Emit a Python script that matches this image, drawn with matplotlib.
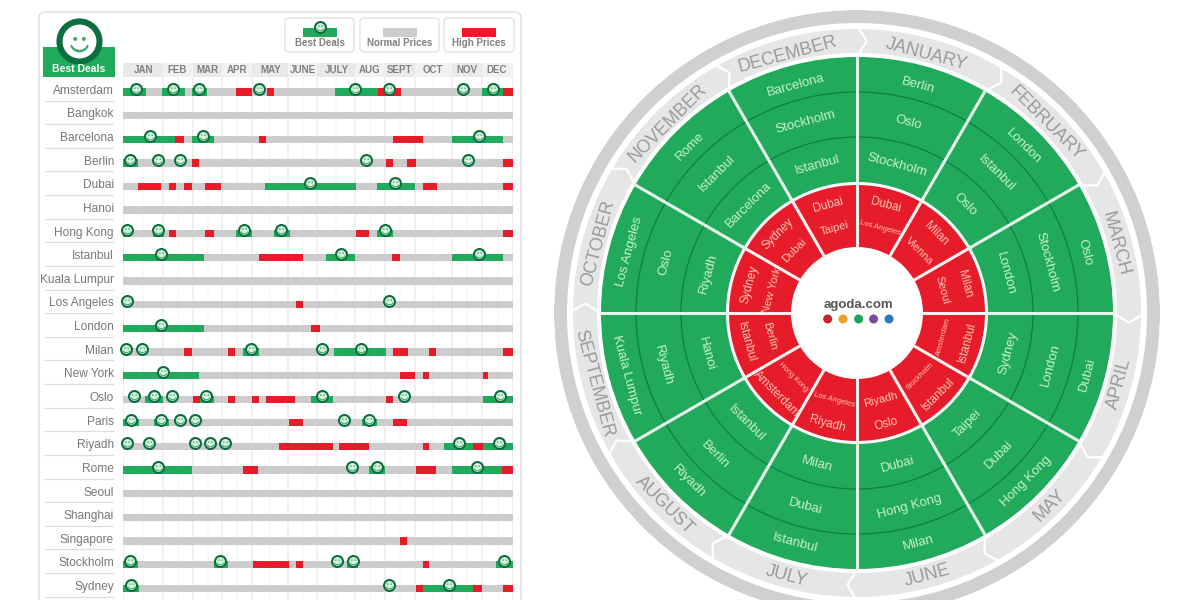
import numpy as np
import matplotlib
matplotlib.use('Agg')
import matplotlib.pyplot as plt
from matplotlib.patches import FancyBboxPatch, Rectangle
from matplotlib.path import Path

plt.rcParams['font.family'] = ['Liberation Sans', 'DejaVu Sans']

# Calendar data, spans are in day of year
cities = ['Amsterdam', 'Bangkok', 'Barcelona', 'Berlin', 'Dubai', 'Hanoi', 'Hong Kong', 'Istanbul',
          'Kuala Lumpur', 'Los Angeles', 'London', 'Milan', 'New York', 'Oslo', 'Paris', 'Riyadh',
          'Rome', 'Seoul', 'Shanghai', 'Singapore', 'Stockholm', 'Sydney']
short_months = ['JAN', 'FEB', 'MAR', 'APR', 'MAY', 'JUNE', 'JULY', 'AUG', 'SEPT', 'OCT', 'NOV', 'DEC']
month_edges = [0, 37.4, 65.5, 92.7, 121, 154, 182, 217, 245, 273, 308, 336, 365]

green_spans = [
    [(0, 21.5), (36.5, 58), (65, 79), (198, 239), (336, 356)],
    [],
    [(0, 49), (65, 85), (308, 356)],
    [(0, 13.7)],
    [(133, 218), (238, 273.6)],
    [],
    [(0, 7), (28, 38), (105.5, 121), (141, 156), (238, 253)],
    [(0, 76), (190, 217.5), (308, 356)],
    [],
    [],
    [(0, 76)],
    [(112.6, 127), (197.5, 246)],
    [(0, 71)],
    [(21, 37), (72, 85), (176, 197), (337, 365)],
    [(0, 14.7), (29, 42.7), (224, 237.4)],
    [(300, 328), (337, 365)],
    [(0, 65), (230.6, 245.6), (308, 355)],
    [],
    [],
    [],
    [(0, 14), (85, 98), (210, 220), (349, 365)],
    [(0, 14.7), (281, 328)],
]
red_spans = [
    [(106, 121), (134.5, 141.6), (239, 260), (356, 365)],
    [],
    [(49, 57.4), (127, 134), (253, 280.5)],
    [(65, 71), (246, 253), (266, 274), (356, 365)],
    [(14, 35.5), (43, 49.6), (57, 64.6), (77, 92), (281, 294), (356, 365)],
    [],
    [(43, 49.6), (77, 85), (218, 230), (356, 365)],
    [(127, 168.5), (252, 259.6)],
    [],
    [(161.6, 168.5)],
    [(175.6, 184)],
    [(57, 65), (98.6, 105), (253, 267), (286.4, 293), (356, 365)],
    [(259, 273.6), (281, 286.4), (337, 342)],
    [(65.5, 72), (98.6, 105), (120.7, 127), (133.5, 161), (246.5, 253)],
    [(155, 168.5), (253, 266)],
    [(146, 197), (202, 230), (281, 286.4), (328, 337)],
    [(112, 126), (274, 292.7), (355, 365)],
    [],
    [],
    [(259, 266)],
    [(121.7, 155.7), (162, 168.5), (281, 286.4)],
    [(274, 281), (328, 336), (356, 365)],
]
smiles = [
    [12, 47, 71, 127, 217.5, 248.7, 318, 346],
    [],
    [25, 75, 333],
    [6.5, 32.5, 53.7, 227, 323],
    [175, 255],
    [],
    [3.7, 33, 113.6, 148, 245],
    [36, 204, 333],
    [],
    [3.4, 249],
    [36],
    [3, 18, 120, 186.6, 223],
    [37],
    [10, 28.7, 46, 77.7, 186, 263, 352.5],
    [7.5, 36, 53, 67, 207, 230.6],
    [4, 24.6, 67, 81, 95.5, 314, 352],
    [32.5, 214, 238, 331],
    [],
    [],
    [],
    [6.5, 91, 200, 215.6, 357],
    [7.5, 249, 305],
]

# Wheel data, clockwise from January, best deals and high prices
months = ['JANUARY', 'FEBRUARY', 'MARCH', 'APRIL', 'MAY', 'JUNE', 'JULY', 'AUGUST', 'SEPTEMBER',
          'OCTOBER', 'NOVEMBER', 'DECEMBER']
green_outer = ['Berlin', 'London', 'Oslo', 'Dubai', 'Hong Kong', 'Milan', 'Istanbul', 'Riyadh',
               'Kuala Lumpur', 'Los Angeles', 'Rome', 'Barcelona']
green_middle = ['Oslo', 'Istanbul', 'Stockholm', 'London', 'Dubai', 'Hong Kong', 'Dubai', 'Berlin',
                'Riyadh', 'Oslo', 'Istanbul', 'Stockholm']
green_inner = ['Stockholm', 'Oslo', 'London', 'Sydney', 'Taipei', 'Dubai', 'Milan', 'Istanbul',
               'Hanoi', 'Riyadh', 'Barcelona', 'Istanbul']
red_outer = ['Dubai', 'Milan', 'Milan', 'Istanbul', 'Istanbul', 'Oslo', 'Riyadh', 'Amsterdam',
             'Istanbul', 'Sydney', 'Sydney', 'Dubai']
red_inner = ['Los Angeles', 'Vienna', 'Seoul', 'Amsterdam', 'Stockholm', 'Riyadh', 'Los Angeles',
             'Hong Kong', 'Berlin', 'New York', 'Dubai', 'Taipei']
dot_colors = ['#c4242c', '#e8a122', '#1fa35c', '#7a4a9e', '#2f78c2']

GREEN = '#21aa5b'
DARK = '#0c6e40'
RED = '#e61c2b'
GREY = '#cccccc'
TEXT = '#808080'

# Month names are not quite centred in their cells
header_x = [19.7, 50.5, 79, 106.6, 138, 168.5, 200, 231, 259, 290, 322, 350]


def smile_path():
    eye_l = Path.circle((-0.24, 0.2), 0.11)
    eye_r = Path.circle((0.24, 0.2), 0.11)
    t = np.radians(np.linspace(200, 340, 20))
    outer = np.column_stack([0.55 * np.cos(t), 0.55 * np.sin(t)])
    inner = np.column_stack([0.46 * np.cos(t[::-1]), 0.05 + 0.46 * np.sin(t[::-1])])
    mouth = Path(np.vstack([outer, inner, outer[:1]]), closed=True)
    return Path.make_compound_path(eye_l, eye_r, mouth)


face = smile_path()


def draw_smile(ax, x, y):
    ax.scatter(x, y, s=62, facecolor='#d9f2dd', edgecolor=DARK, linewidth=1.5, zorder=5, clip_on=False)
    ax.scatter(x, y, s=30, marker=face, color=GREEN, linewidth=0, zorder=6, clip_on=False)


fig = plt.figure(figsize=(12, 6), dpi=100, facecolor='white')

# Pixel layer for the panel, logo and legend
page = fig.add_axes([0, 0, 1, 1], zorder=0)
page.set_xlim(0, 1200)
page.set_ylim(600, 0)
page.axis('off')

page.add_patch(FancyBboxPatch((39, 12), 482, 640, boxstyle='round,pad=0,rounding_size=6',
                              fc='white', ec='#dcdcdc', lw=1.0))
page.add_patch(Rectangle((43, 47), 72, 30, color=GREEN, lw=0))
page.scatter(79, 41, s=830, facecolor='white', edgecolor=DARK, linewidth=4.4, zorder=3)
page.scatter(79, 42, s=200, marker=face, color='#3aa866', linewidth=0, zorder=4)
page.text(79, 69.5, 'Best Deals', color='white', fontsize=7.5, fontweight='bold', ha='center', va='center', zorder=4)

legend_boxes = [(285, 69, 'Best Deals', GREEN, 303), (360, 79, 'Normal Prices', GREY, 383),
                (444, 70, 'High Prices', RED, 462)]
for x0, w, label, col, sw in legend_boxes:
    page.add_patch(FancyBboxPatch((x0, 18), w, 34, boxstyle='round,pad=0,rounding_size=4',
                                  fc='white', ec='#e0e0e0', lw=0.9))
    page.add_patch(Rectangle((sw, 28), 33.5, 9, color=col, lw=0))
    page.text(x0 + w / 2, 43.5, label, color=TEXT, fontsize=7, fontweight='bold', ha='center', va='center')
draw_smile(page, 320, 27)

# Calendar grid: x is day of year, y is row number
gantt = fig.add_axes([123 / 1200, 0, 390 / 1200, 1], zorder=1)
gantt.patch.set_alpha(0)
gantt.set_xlim(0, 365)
gantt.set_ylim((600 - 92) / 23.63, -92 / 23.63)
gantt.axis('off')

edges = np.array(month_edges)
mids = (edges[:-1] + edges[1:]) / 2
gantt.vlines(edges, -0.62, 22, color='#f0f0f0', lw=1.4, zorder=1)
gantt.vlines(mids, -0.62, 22, color='#f7f7f7', lw=1.2, zorder=1)
for i, name in enumerate(short_months):
    tone = '#e9e9e9' if i % 2 == 0 else '#f1f1f1'
    gantt.bar(mids[i], 0.6, width=edges[i + 1] - edges[i], bottom=-1.23, color=tone, lw=0, zorder=1)
    gantt.text(header_x[i], -0.93, name, color=TEXT, fontsize=7, fontweight='bold', ha='center', va='center')

for i, city in enumerate(cities):
    gantt.barh(i, 365, height=0.31, left=0, color=GREY, lw=0, zorder=2)
    for a, b in green_spans[i]:
        gantt.barh(i, b - a, height=0.31, left=a, color=GREEN, lw=0, zorder=3)
    for a, b in red_spans[i]:
        gantt.barh(i, b - a, height=0.31, left=a, color=RED, lw=0, zorder=3)
    for d in smiles[i]:
        draw_smile(gantt, d, i - 0.14)
    gantt.text(-8.5, i - 0.05, city, color='#777777', fontsize=8.6, ha='right', va='center', clip_on=False)
    gantt.plot([-73, -9], [i + 0.36, i + 0.36], color='#dddddd', lw=0.9, clip_on=False, zorder=1)

# Wheel, radius in pixels, January at the top going clockwise
wheel = fig.add_axes([554 / 1200, -16 / 600, 606 / 1200, 606 / 600], projection='polar', zorder=1)
wheel.patch.set_alpha(0)
wheel.set_theta_zero_location('N')
wheel.set_theta_direction(-1)
wheel.set_rlim(0, 303)
wheel.axis('off')

step = np.radians(30)
starts = step * np.arange(12)
centres = starts + step / 2

wheel.bar(0, 13, width=2 * np.pi, bottom=290, color='#cfd0d1', lw=0)
wheel.bar(centres, 125, width=step, bottom=131, color=GREEN, lw=0)
wheel.bar(centres, 62, width=step, bottom=66, color=RED, lw=0)

ring = np.linspace(0, 2 * np.pi, 361)
for r in (176, 221):
    wheel.plot(ring, np.full_like(ring, r), color='#0d7f45', lw=0.9)


def upright(theta):
    deg = np.degrees(theta)
    return 180 - deg if 90 < deg < 270 else -deg


def wheel_label(theta, r, s, color, size):
    wheel.text(theta, r, s, color=color, fontsize=size, rotation=upright(theta), rotation_mode='anchor',
               ha='center', va='center_baseline')


for i, s in enumerate(months):
    a = starts[i]
    b = a + step
    top = np.linspace(a + np.radians(0.8), b + np.radians(0.2), 40)
    low = top[::-1]
    th = np.concatenate([top, [b + np.radians(1.8)], low, [a + np.radians(2.3)]])
    rr = np.concatenate([np.full(40, 284), [272], np.full(40, 260), [272]])
    wheel.fill(th, rr, color='#e6e6e7', lw=0)
    wheel_label(centres[i], 270, s, '#989a9c', 13)
    wheel_label(centres[i], 237, green_outer[i], '#c6f0cd', 9.5)
    wheel_label(centres[i], 199, green_middle[i], '#c6f0cd', 9.5)
    wheel_label(centres[i], 155, green_inner[i], '#c6f0cd', 9.5)
    wheel_label(centres[i], 113, red_outer[i], '#ffc4b4', 8.5)
    small = 5.5 if len(red_inner[i]) > 8 else 8
    wheel_label(centres[i], 89, red_inner[i], '#ffc4b4', small)

for a in starts:
    wheel.plot([a, a], [66, 131], color='#fdf3f0', lw=2.2)
    wheel.plot([a, a], [131, 256], color='#e6f7ea', lw=2.2)

# Centre of the wheel, on its own layer above the wheel
top_layer = fig.add_axes([0, 0, 1, 1], zorder=2)
top_layer.set_xlim(0, 1200)
top_layer.set_ylim(600, 0)
top_layer.axis('off')
top_layer.text(858, 305, 'agoda.com', color='#55565a', fontsize=9.5, fontweight='bold', ha='center', va='center')
top_layer.scatter([827.7, 843, 858.6, 873.6, 889], [319] * 5, s=42, color=dot_colors, linewidth=0)

fig.savefig('out.png', dpi=100)
